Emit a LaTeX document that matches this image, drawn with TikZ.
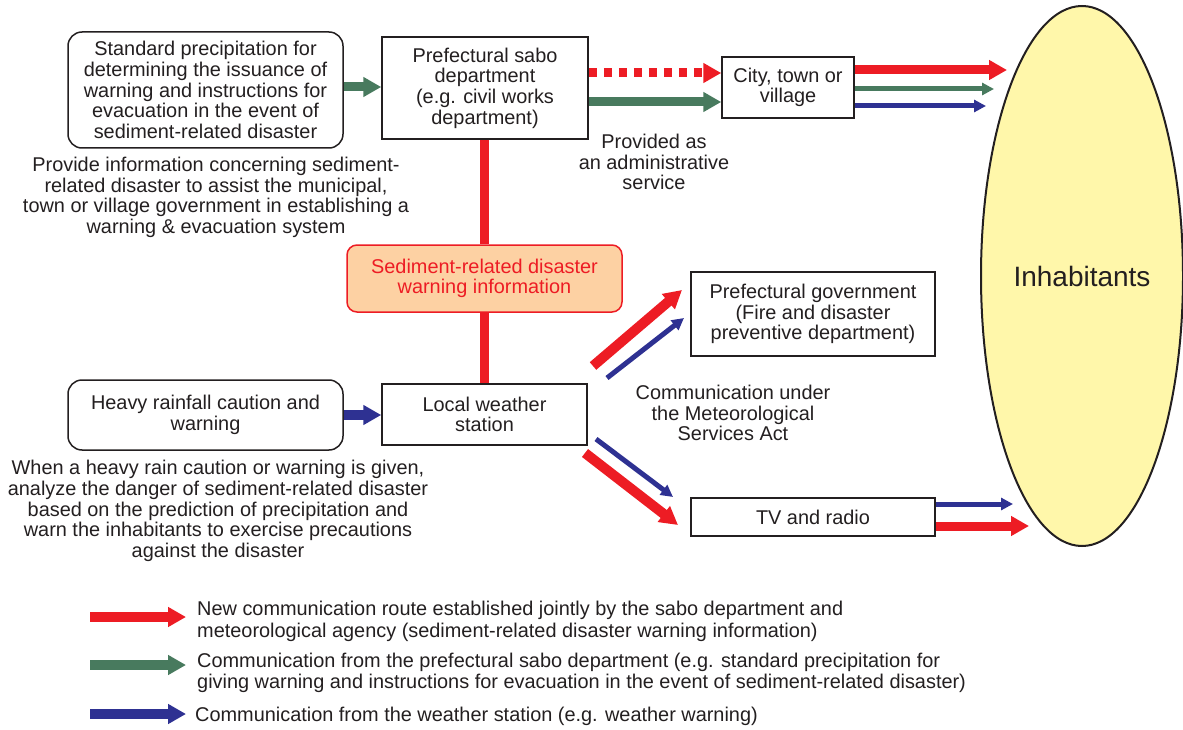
\documentclass[tikz,border=0pt]{standalone}
\usepackage{fontspec}
\setmainfont{Liberation Sans}
\usetikzlibrary{arrows.meta,shapes.geometric}
\definecolor{ink}{HTML}{231F20}
\definecolor{rred}{HTML}{ED1C24}
\definecolor{ggreen}{HTML}{487A5E}
\definecolor{bblue}{HTML}{2E3192}
\definecolor{peach}{HTML}{FDD1A3}
\definecolor{lyellow}{HTML}{FFF7AA}
\begin{document}
\begin{tikzpicture}[x=1pt,y=-1pt, font=\fontsize{19.9}{20.6}\selectfont, text=ink,
  box/.style={draw=ink, line width=1.5pt, fill=white, inner sep=0pt, align=center},
  rbox/.style={box, rounded corners=14pt},
  fat/.style={line width=9pt, -{Triangle[length=18pt,width=19pt]}},
  thinarr/.style={line width=5pt, -{Triangle[length=12pt,width=12pt]}},
  lbl/.style={inner sep=0pt, align=center}]
\useasboundingbox (0,0) rectangle (1183,730);

% nodes
\node[rbox, minimum width=275pt, minimum height=116pt] (std) at (205.5,90)
  {Standard precipitation for\\determining the issuance of\\warning and instructions for\\evacuation in the event of\\sediment-related disaster};
\node[box, minimum width=206pt, minimum height=102pt] (sabo) at (485,88)
  {Prefectural sabo\\department\\(e.g. civil works\\department)};
\node[box, minimum width=132pt, minimum height=61pt] (city) at (788,87.5)
  {City, town or\\village};
\node[box, rounded corners=10pt, draw=rred, fill=peach, text=rred, minimum width=275pt, minimum height=67pt] (swi) at (484.5,278.5)
  {Sediment-related disaster\\warning information};
\node[box, minimum width=205pt, minimum height=61pt] (lws) at (484.5,414.5)
  {Local weather\\station};
\node[rbox, minimum width=275pt, minimum height=70pt] (hr) at (205.5,415)
  {Heavy rainfall caution and\\warning};
\node[box, minimum width=244pt, minimum height=84pt] (pg) at (813,314)
  {Prefectural government\\(Fire and disaster\\preventive department)};
\node[box, minimum width=244pt, minimum height=38pt] (tv) at (813,517)
  {TV and radio};
\node[ellipse, draw=ink, line width=2pt, fill=lyellow, minimum width=202pt, minimum height=540pt, inner sep=0pt,
  font=\fontsize{28}{30}\selectfont] (inh) at (1082,276) {Inhabitants};

% texts
\node[lbl] (t1) at (216,197.5) {Provide information concerning sediment-\\related disaster to assist the municipal,\\town or village government in establishing a\\warning \& evacuation system};
\node[lbl] (t2) at (654,162) {Provided as\\an administrative\\service};
\node[lbl] (t3) at (733,413) {Communication under\\the Meteorological\\Services Act};
\node[lbl] (t4) at (218,511) {When a heavy rain caution or warning is given,\\analyze the danger of sediment-related disaster\\based on the prediction of precipitation and\\warn the inhabitants to exercise precautions\\against the disaster};

% vertical red link
\draw[rred, line width=9pt] (swi.north |- sabo.south) -- (swi.north);
\draw[rred, line width=9pt] (swi.south) -- (lws.north);

% arrows top
\draw[fat, ggreen] (std.east |- 0,87) -- (sabo.west |- 0,87);
\draw[fat, rred, dash pattern=on 8pt off 7pt] (sabo.east |- 0,73) -- (city.west |- 0,73);
\draw[fat, ggreen] (sabo.east |- 0,102) -- (city.west |- 0,102);

\coordinate (c1) at (1007,70);
\coordinate (c2) at (994,89);
\coordinate (c3) at (986,106);
\draw[fat, rred] (city.east |- c1) -- (c1);
\draw[thinarr, ggreen] (city.east |- c2) -- (c2);
\draw[thinarr, bblue] (city.east |- c3) -- (c3);

% heavy rainfall -> station
\draw[fat, bblue, line width=10pt] (hr.east |- 0,415) -- (lws.west |- 0,415);

% diagonals
\coordinate (d1s) at (593,366); \coordinate (d1e) at (682,290);
\coordinate (d2s) at (607,378); \coordinate (d2e) at (684,318);
\coordinate (d3s) at (585,453); \coordinate (d3e) at (678,525);
\coordinate (d4s) at (596,439); \coordinate (d4e) at (673,497);
\draw[fat, rred, line width=10pt] (d1s) -- (d1e);
\draw[thinarr, bblue] (d2s) -- (d2e);
\draw[fat, rred, line width=10pt] (d3s) -- (d3e);
\draw[thinarr, bblue] (d4s) -- (d4e);

% TV -> inhabitants
\coordinate (e1) at (1013,504);
\coordinate (e2) at (1029,526);
\draw[thinarr, bblue] (tv.east |- e1) -- (e1);
\draw[fat, rred] (tv.east |- e2) -- (e2);

% legend
\coordinate (ls1) at (90,617); \coordinate (le1) at (186,617);
\coordinate (ls2) at (90,665); \coordinate (le2) at (186,665);
\coordinate (ls3) at (90,714); \coordinate (le3) at (186,714);
\draw[fat, rred, line width=10pt] (ls1) -- (le1);
\draw[fat, ggreen, line width=10pt] (ls2) -- (le2);
\draw[fat, bblue, line width=10pt] (ls3) -- (le3);
\node[lbl, anchor=west, align=left, font=\fontsize{19.9}{21.5}\selectfont] (l1) at (197,621.5) {New communication route established jointly by the sabo department and\\meteorological agency (sediment-related disaster warning information)};
\node[lbl, anchor=west, align=left, font=\fontsize{19.9}{21.5}\selectfont] (l2) at (197,673) {Communication from the prefectural sabo department (e.g. standard precipitation for\\giving warning and instructions for evacuation in the event of sediment-related disaster)};
\node[lbl, anchor=west, align=left] (l3) at (195,716) {Communication from the weather station (e.g. weather warning)};
\end{tikzpicture}
\end{document}
